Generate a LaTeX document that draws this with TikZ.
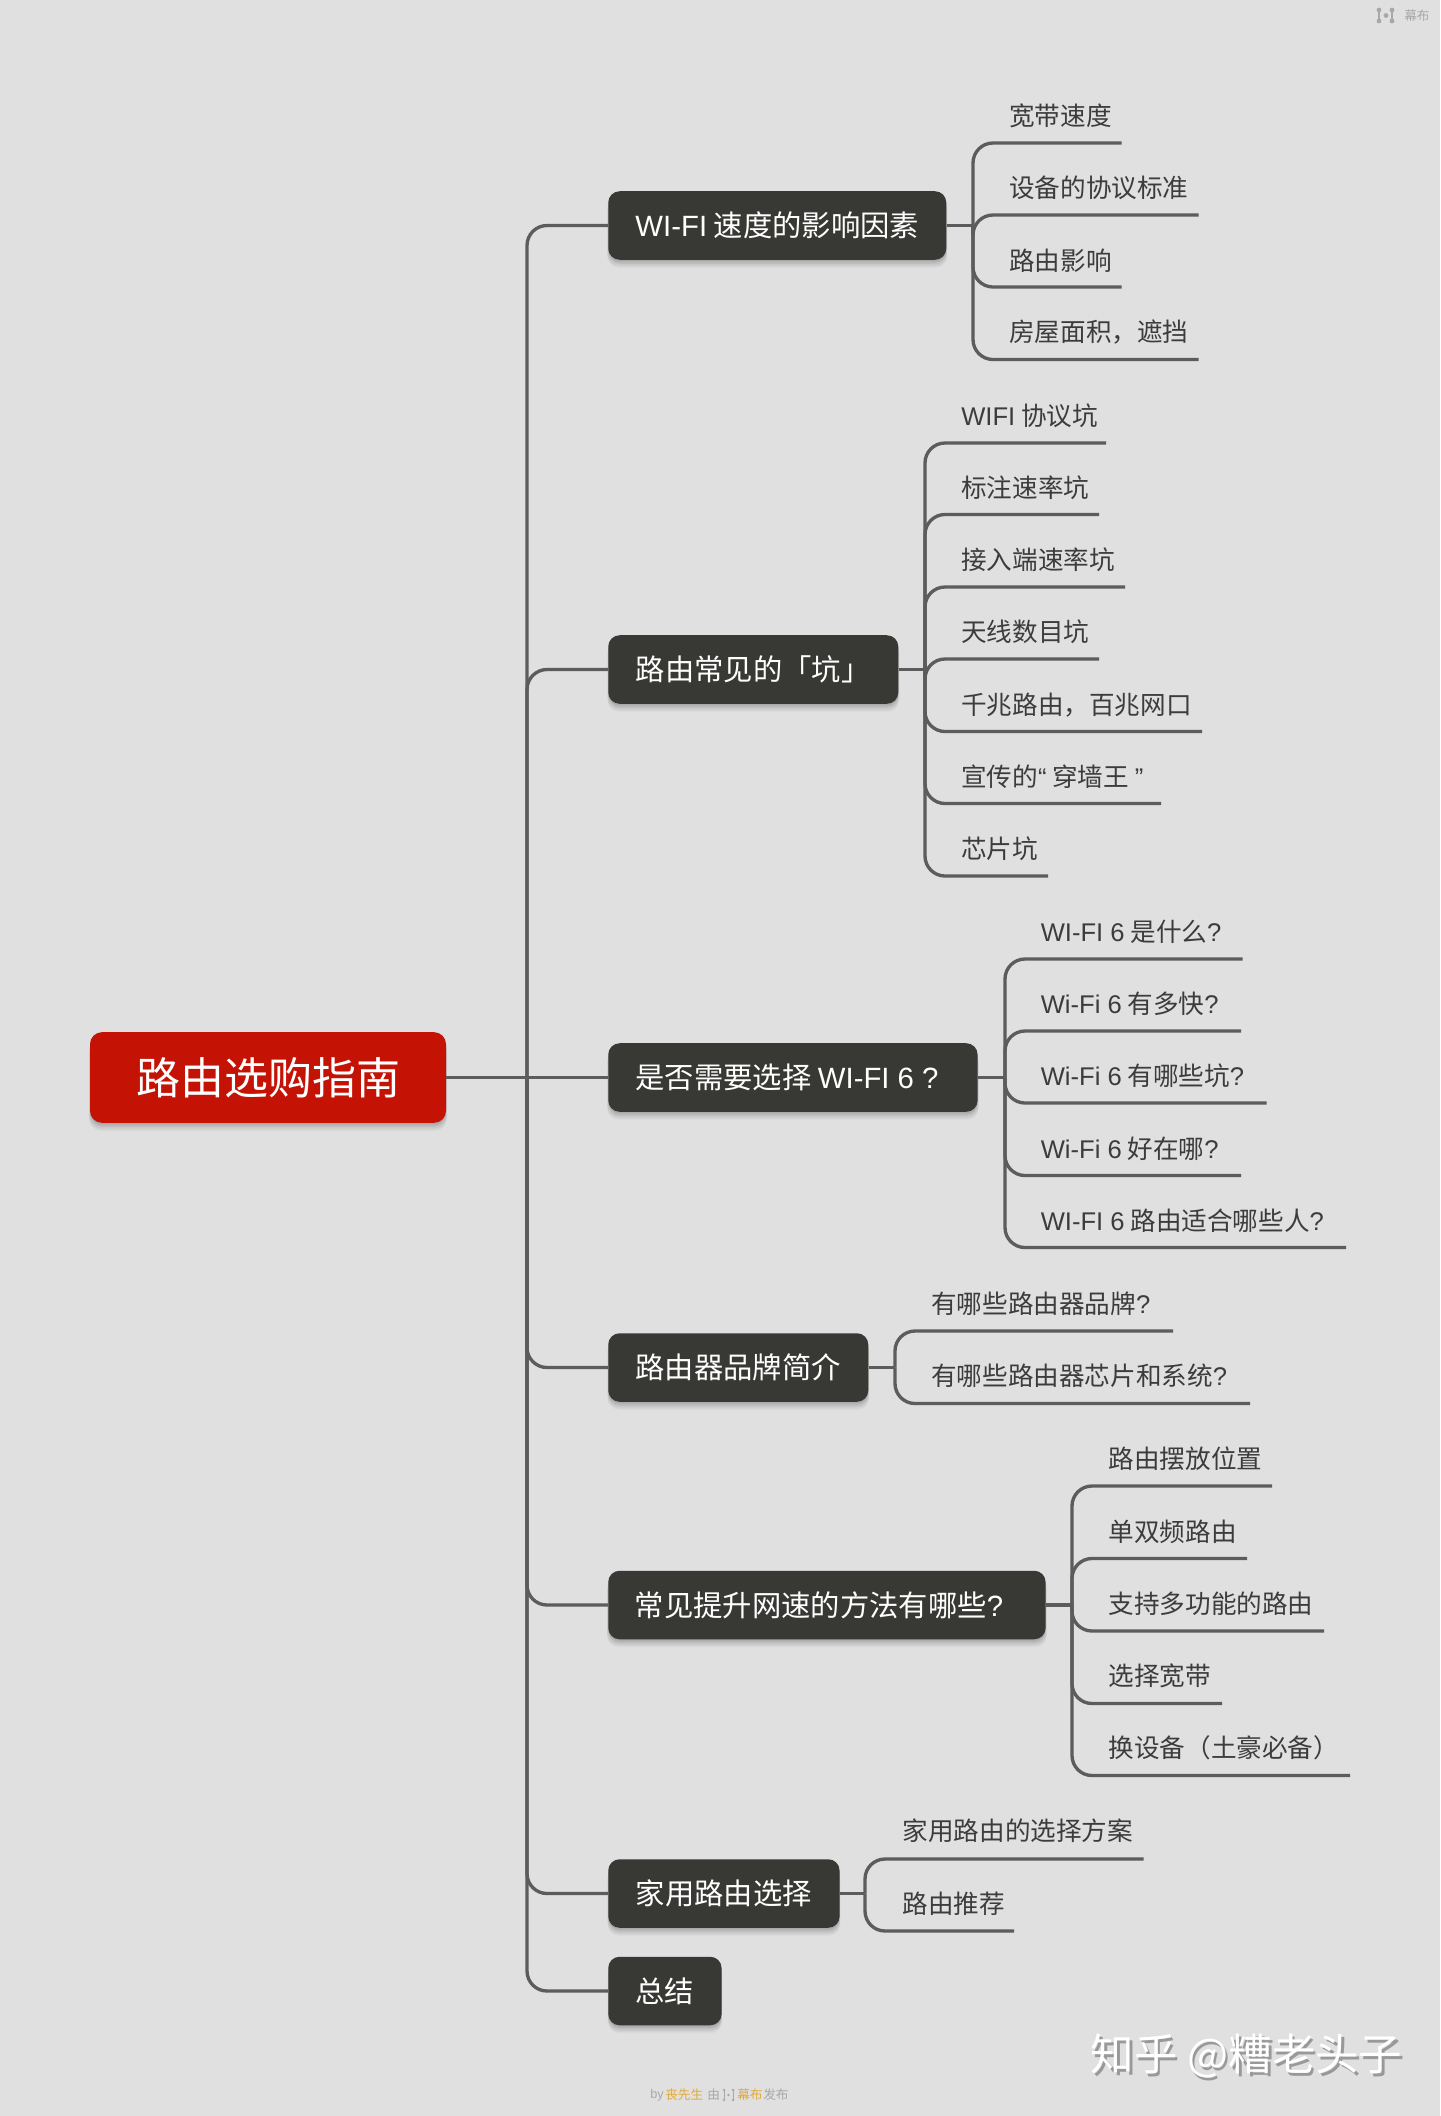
\documentclass[tikz,border=0pt]{standalone}
\usepackage{fontspec}
\setmainfont{Noto Sans CJK SC}
\newfontfamily\latfont{Liberation Sans}
\newcommand{\lat}[1]{{\latfont #1}}
\newcommand{\lowr}[2][1.1pt]{\raisebox{-#1}{#2}}
\usetikzlibrary{shadows}
\definecolor{bgc}{HTML}{E0E0E0}
\definecolor{linec}{HTML}{5C5C5C}
\definecolor{darkc}{HTML}{383835}
\definecolor{redc}{HTML}{C41205}
\definecolor{leafc}{HTML}{3C3C3C}
\definecolor{goldc}{HTML}{E0A93A}
\definecolor{faintc}{HTML}{A8A8A8}
\tikzset{
  x=0.75pt,y=-0.75pt,
  softshade/.style={
    drop shadow={shadow xshift=0pt,shadow yshift=-6pt,opacity=.025,fill=black,shadow scale=1.005},
    drop shadow={shadow xshift=0pt,shadow yshift=-5pt,opacity=.035,fill=black,shadow scale=1.005},
    drop shadow={shadow xshift=0pt,shadow yshift=-4pt,opacity=.04,fill=black,shadow scale=1.005},
    drop shadow={shadow xshift=0pt,shadow yshift=-3pt,opacity=.05,fill=black,shadow scale=1},
    drop shadow={shadow xshift=0pt,shadow yshift=-2pt,opacity=.05,fill=black,shadow scale=1},
    drop shadow={shadow xshift=0pt,shadow yshift=-1pt,opacity=.05,fill=black,shadow scale=1}},
  topic/.style={softshade,fill=darkc,text=white,rounded corners=8.5pt,minimum height=51.4pt,
    inner sep=0pt,font=\fontsize{22}{22}\selectfont,anchor=west},
  rootbox/.style={softshade,fill=redc,text=white,rounded corners=9pt,minimum width=267pt,minimum height=68pt,
    inner sep=0pt,font=\fontsize{33}{34}\selectfont},
  leaf/.style={text=leafc,inner sep=0pt,anchor=west,font=\fontsize{19.2}{20}\selectfont},
  link/.style={draw=linec,line width=2.5pt},
  elbow/.style={link,rounded corners=15pt},
  tiny/.style={inner sep=0pt,anchor=west,font=\fontsize{9.5}{10}\selectfont},
}
\begin{document}
\begin{tikzpicture}
\fill[bgc] (0,0) rectangle (1440,2116);
\useasboundingbox (0,0) rectangle (1440,2116);

% boxes
\node[rootbox] (root) at (268,1077.5) {\lowr[1.6pt]{路由选购指南}};
\node[topic,minimum width=253.5pt] (n1) at (608,225.5) {\lowr{\lat{WI-FI} 速度的影响因素}};
\node[topic,minimum width=217.5pt] (n2) at (608,669.5) {\lowr{路由常见的「坑」}};
\node[topic,minimum width=277pt] (n3) at (608,1077.5) {\lowr{是否需要选择 \lat{WI-FI 6 ?}}\hspace*{9pt}};
\node[topic,minimum width=195pt] (n4) at (608,1367.5) {\lowr{路由器品牌简介}};
\node[topic,minimum width=328pt] (n5) at (608,1605) {\lowr{常见提升网速的方法有哪些\lat{?}}\hspace*{12pt}};
\node[topic,minimum width=173.5pt] (n6) at (608,1893.5) {\lowr{家用路由选择}};
\node[topic,minimum width=85pt] (n7) at (608,1991) {\lowr{总结}};

% connector junctions
\coordinate (t) at (527,1077.5);
\coordinate (j1) at (973,225.5);
\coordinate (j2) at (925,669.5);
\coordinate (j3) at (1005,1077.5);
\coordinate (j4) at (895,1367.5);
\coordinate (j5) at (1072,1605);
\coordinate (j6) at (865,1893.5);

% leaf line ends
\coordinate (a1) at (1121.5,143);
\coordinate (a2) at (1198.5,215);
\coordinate (a3) at (1121.5,287);
\coordinate (a4) at (1198.5,359.5);
\coordinate (b1) at (1106,443);
\coordinate (b2) at (1099,514.5);
\coordinate (b3) at (1125,587);
\coordinate (b4) at (1099,659);
\coordinate (b5) at (1202,731.5);
\coordinate (b6) at (1161,803.5);
\coordinate (b7) at (1048,876);
\coordinate (c1) at (1242.7,959);
\coordinate (c2) at (1241,1031);
\coordinate (c3) at (1266.7,1103);
\coordinate (c4) at (1241,1175.5);
\coordinate (c5) at (1346,1247.5);
\coordinate (d1) at (1173,1331);
\coordinate (d2) at (1250,1403.5);
\coordinate (e1) at (1272,1486);
\coordinate (e2) at (1247,1558.5);
\coordinate (e3) at (1324,1631);
\coordinate (e4) at (1222,1703.5);
\coordinate (e5) at (1350,1775.5);
\coordinate (f1) at (1143.5,1859);
\coordinate (f2) at (1014,1931);

% connectors
\draw[link] (root.east) -- (n3.west);
\foreach \n in {n1,n2,n4,n5,n6,n7}
  \draw[elbow] (t) |- (\n.west);
\draw[link] (n1.east) -- (j1);
\draw[link] (n2.east) -- (j2);
\draw[link] (n3.east) -- (j3);
\draw[link] (n4.east) -- (j4);
\draw[link] (n5.east) -- (j5);
\draw[link] (n6.east) -- (j6);
\foreach \j/\e in {j1/a1,j1/a2,j1/a3,j1/a4,
                   j2/b1,j2/b2,j2/b3,j2/b4,j2/b5,j2/b6,j2/b7,
                   j3/c1,j3/c2,j3/c3,j3/c4,j3/c5,
                   j4/d1,j4/d2,
                   j5/e1,j5/e2,j5/e3,j5/e4,j5/e5,
                   j6/f1,j6/f2}
  \draw[elbow] (\j) |- (\e);

% leaves
\node[leaf] (la1) at (1009,116) {宽带速度};
\node[leaf] (la2) at (1009,188) {设备的协议标准};
\node[leaf] (la3) at (1009,260.5) {路由影响};
\node[leaf] (la4) at (1009,332.5) {房屋面积，遮挡};
\node[leaf] (lb1) at (961,416) {\lat{WIFI} 协议坑};
\node[leaf] (lb2) at (961,488) {标注速率坑};
\node[leaf] (lb3) at (961,560) {接入端速率坑};
\node[leaf] (lb4) at (961,632) {天线数目坑};
\node[leaf] (lb5) at (961,705) {千兆路由，百兆网口};
\node[leaf] (lb6) at (961,777) {宣传的\lat{“} 穿墙王 \lat{”}};
\node[leaf] (lb7) at (961,849) {芯片坑};
\node[leaf] (lc1) at (1040.5,932) {\lat{WI-FI 6} 是什么\lat{?}};
\node[leaf] (lc2) at (1040.5,1004) {\lat{Wi-Fi 6} 有多快\lat{?}};
\node[leaf] (lc3) at (1040.5,1076) {\lat{Wi-Fi 6} 有哪些坑\lat{?}};
\node[leaf] (lc4) at (1040.5,1149) {\lat{Wi-Fi 6} 好在哪\lat{?}};
\node[leaf] (lc5) at (1040.5,1221) {\lat{WI-FI 6} 路由适合哪些人\lat{?}};
\node[leaf] (ld1) at (931,1304) {有哪些路由器品牌\lat{?}};
\node[leaf] (ld2) at (931,1376) {有哪些路由器芯片和系统\lat{?}};
\node[leaf] (le1) at (1108.5,1459) {路由摆放位置};
\node[leaf] (le2) at (1108.5,1531.5) {单双频路由};
\node[leaf] (le3) at (1108.5,1604) {支持多功能的路由};
\node[leaf] (le4) at (1108.5,1676) {选择宽带};
\node[leaf] (le5) at (1108.5,1748) {换设备（土豪必备）};
\node[leaf] (lf1) at (902.5,1831) {家用路由的选择方案};
\node[leaf] (lf2) at (902.5,1903.5) {路由推荐};

% top-right mark
\node[tiny,text=faintc] (tmark) at (1404,15.5) {幕布};
\foreach \p in {(1379,10),(1379,21),(1392,10),(1392,21),(1386,15.5)}
  \fill[faintc] \p circle (2.4);
\draw[faintc,line width=1pt] (1379,10) -- (1379,21) (1392,10) -- (1392,21);

% bottom credit
\node[tiny,text=faintc] (cr1) at (650,2095) {\lat{by}};
\node[tiny,text=goldc] (cr2) at (665,2095) {丧先生};
\node[tiny,text=faintc] (cr3) at (707,2095) {由};
\foreach \p in {(724,2090),(724,2100),(733,2090),(733,2100),(728.5,2095)}
  \fill[faintc] \p circle (1.4);
\draw[faintc,line width=.6pt] (724,2090) -- (724,2100) (733,2090) -- (733,2100);
\node[tiny,text=goldc] (cr4) at (737,2095) {幕布};
\node[tiny,text=faintc] (cr5) at (763,2095) {发布};

% watermark
\node[inner sep=0pt,anchor=west,text=gray!80,font=\fontsize{32.6}{34}\selectfont] (wm0) at (1093,2058.5) {知乎 @糟老头子};
\node[inner sep=0pt,anchor=west,text=white,font=\fontsize{32.6}{34}\selectfont] (wm) at (1090.5,2056) {知乎 @糟老头子};
\end{tikzpicture}
\end{document}
